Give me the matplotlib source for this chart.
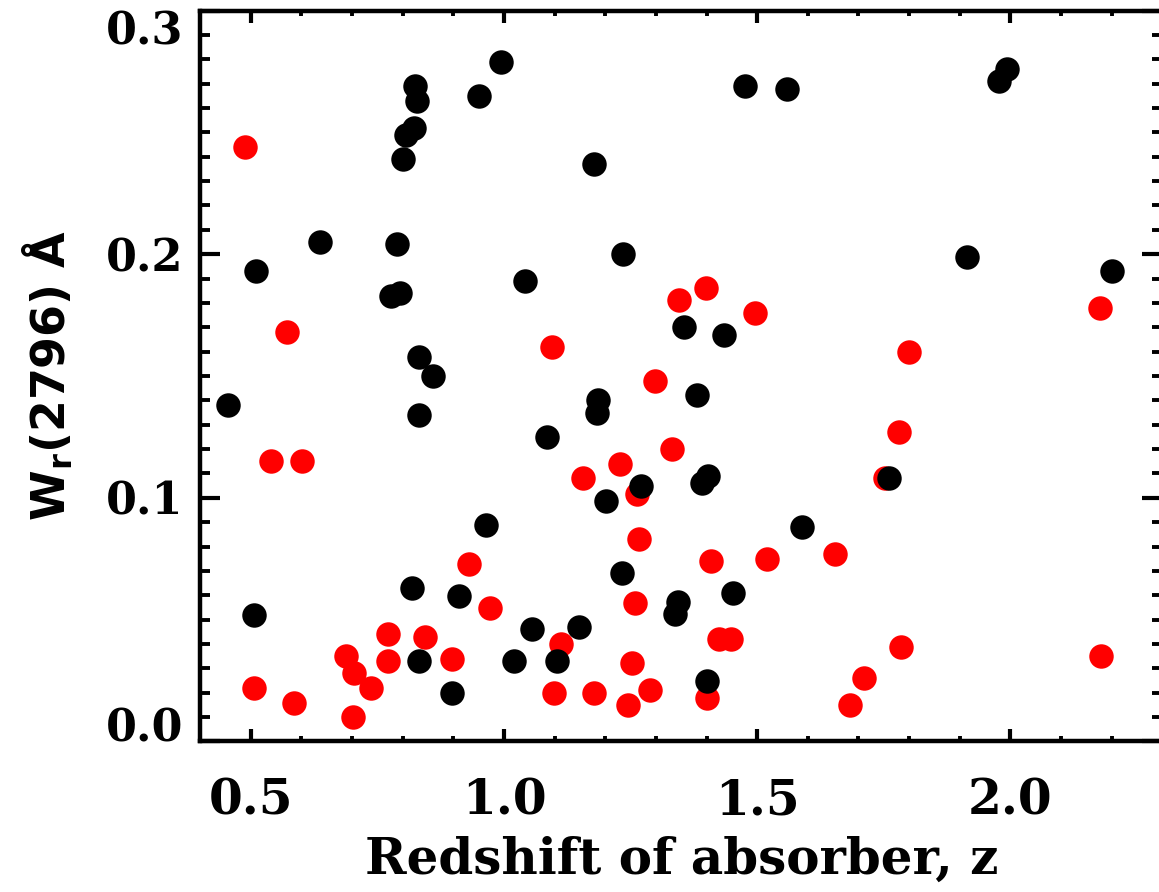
import matplotlib
matplotlib.use("Agg")
import matplotlib.pyplot as plt
from matplotlib.ticker import MultipleLocator

# Redshift (z) and equivalent width W_r(2796) for the two absorber samples
black_z = [0.995, 0.824, 0.829, 0.950, 0.823, 0.807, 0.800, 1.177, 0.636, 0.788,
           1.236, 0.511, 1.041, 0.776, 0.795, 0.832, 0.859, 1.476, 1.559, 1.993,
           1.977, 1.914, 2.200, 1.356, 1.435, 0.454, 0.832, 1.186, 1.183, 1.084,
           1.270, 1.202, 0.964, 1.234, 0.819, 0.911, 0.506, 1.056, 1.148, 0.832,
           1.020, 1.104, 0.898, 1.382, 1.402, 1.391, 1.760, 1.588, 1.344, 1.338,
           1.452, 1.401]
black_w = [0.279, 0.269, 0.263, 0.265, 0.252, 0.249, 0.239, 0.237, 0.205, 0.204,
           0.200, 0.193, 0.189, 0.183, 0.184, 0.158, 0.150, 0.269, 0.268, 0.276,
           0.271, 0.199, 0.193, 0.170, 0.167, 0.138, 0.134, 0.140, 0.135, 0.125,
           0.105, 0.0988, 0.0888, 0.069, 0.063, 0.0598, 0.0519, 0.046, 0.0468, 0.033,
           0.033, 0.033, 0.020, 0.142, 0.109, 0.106, 0.108, 0.0879, 0.0571, 0.0522,
           0.0609, 0.0249]

red_z = [0.488, 0.572, 1.094, 1.345, 1.398, 1.495, 1.799, 2.178, 1.299, 1.332,
         0.540, 0.601, 1.229, 1.156, 1.262, 1.267, 0.931, 0.972, 1.258, 0.771,
         0.844, 0.687, 0.770, 0.897, 0.704, 1.112, 1.253, 0.507, 0.738, 0.586,
         1.098, 1.177, 1.288, 1.245, 0.701, 1.781, 1.752, 1.408, 1.519, 1.654,
         1.425, 1.448, 1.785, 2.179, 1.712, 1.684, 1.400]
red_w = [0.244, 0.168, 0.162, 0.181, 0.186, 0.176, 0.160, 0.178, 0.148, 0.120,
         0.115, 0.115, 0.114, 0.108, 0.1015, 0.083, 0.073, 0.0549, 0.0569, 0.044,
         0.0428, 0.035, 0.033, 0.034, 0.028, 0.040, 0.032, 0.022, 0.022, 0.0159,
         0.020, 0.020, 0.0211, 0.0149, 0.0099, 0.127, 0.108, 0.0739, 0.075, 0.0769,
         0.0419, 0.0419, 0.0389, 0.0349, 0.026, 0.0149, 0.0179]

x_ticks = [0.5, 1.0, 1.5, 2.0]
x_tick_labels = ["0.5", "1.0", "1.5", "2.0"]
y_ticks = [0.0, 0.1, 0.2, 0.3]
y_tick_labels = ["0.0", "0.1", "0.2", "0.3"]

W, H = 1159, 892
fig = plt.figure(figsize=(W / 100, H / 100), dpi=100)
ax = fig.add_axes([200.2 / W, (H - 741.4) / H, 962 / W, 730.8 / H])

ax.scatter(red_z, red_w, s=310, c="#ff0000", linewidths=0, zorder=2)
ax.scatter(black_z, black_w, s=310, c="black", linewidths=0, zorder=3)

ax.set_xlim(0.4, 2.3)
ax.set_ylim(0.0, 0.3)

ax.set_xticks(x_ticks)
ax.set_xticklabels(x_tick_labels)
ax.set_yticks(y_ticks)
ax.set_yticklabels(y_tick_labels)
ax.xaxis.set_minor_locator(MultipleLocator(0.1))
ax.yaxis.set_minor_locator(MultipleLocator(0.01))

for sp in ax.spines.values():
    sp.set_linewidth(3.2)

ax.tick_params(axis="x", which="major", direction="in", length=8.6, width=3.0,
               top=True, bottom=True, pad=26)
ax.tick_params(axis="x", which="minor", direction="in", length=3.6, width=2.8,
               top=True, bottom=True)
ax.tick_params(axis="y", which="major", direction="in", length=14.4, width=3.0,
               left=True, right=True, pad=12)
ax.tick_params(axis="y", which="minor", direction="in", length=7.2, width=2.8,
               left=True, right=True)

for lab in ax.get_xticklabels():
    lab.set_fontfamily("DejaVu Serif")
    lab.set_fontweight("bold")
    lab.set_fontsize(35)
ylabs = ax.get_yticklabels()
for lab in ylabs:
    lab.set_fontfamily("DejaVu Serif")
    lab.set_fontweight("bold")
    lab.set_fontsize(32)
ylabs[0].set_verticalalignment("baseline")
ylabs[-1].set_verticalalignment("top")

ax.set_xlabel("Redshift of absorber, z", fontfamily="DejaVu Serif",
              fontweight="bold", fontsize=36, labelpad=8)
ax.set_ylabel(r"W$_\mathbf{r}$(2796) Å", fontfamily="DejaVu Sans",
              fontweight="bold", fontsize=33, labelpad=22)

fig.savefig("out.png", dpi=100)
